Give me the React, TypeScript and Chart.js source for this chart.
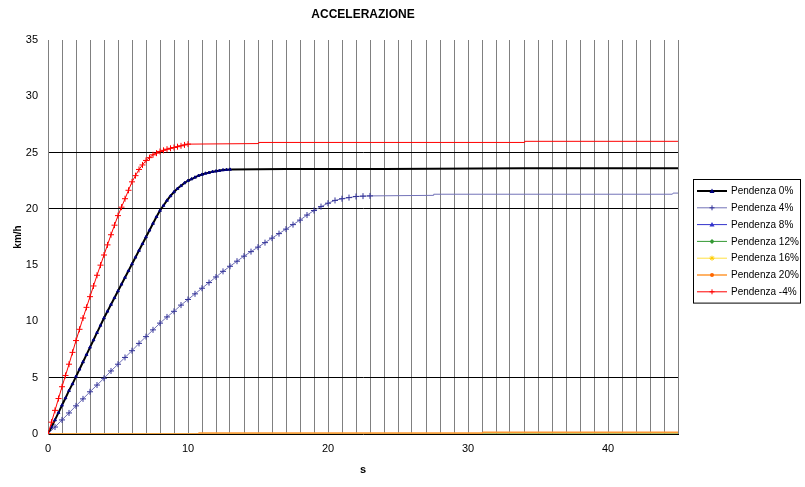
import React, { useEffect, useRef } from "react";
import { Chart, registerables } from "chart.js";
Chart.register(...registerables);

const chartTitle = "ACCELERAZIONE";
const xTitle = "s";
const yTitle = "km/h";
const seriesLabels = ["Pendenza 0%", "Pendenza 4%", "Pendenza 8%", "Pendenza 12%", "Pendenza 16%", "Pendenza 20%", "Pendenza -4%"];
const yTicks = [0, 5, 10, 15, 20, 25, 30, 35];
const xLabelTicks = [0, 10, 20, 30, 40];
const yGridValues = [5, 20, 25];

// Pendenza 0%
const t0 = [0, 0.25, 0.5, 0.75, 1, 1.25, 1.5, 1.75, 2, 2.25, 2.5, 2.75, 3, 3.25, 3.5, 3.75, 4, 4.25, 4.5, 4.75, 5, 5.25, 5.5, 5.75, 6, 6.25, 6.5, 6.75, 7, 7.25, 7.5, 7.75, 8, 8.25, 8.5, 8.75, 9, 9.25, 9.5, 9.75, 10, 10.25, 10.5, 10.75, 11, 11.25, 11.5, 11.75, 12, 12.25, 12.5, 12.75, 13];
const v0 = [0, 0.6, 1.25, 1.9, 2.55, 3.2, 3.85, 4.45, 5.1, 5.75, 6.4, 7.05, 7.7, 8.35, 9.0, 9.65, 10.3, 10.9, 11.5, 12.1, 12.7, 13.3, 13.9, 14.5, 15.1, 15.7, 16.3, 16.9, 17.5, 18.1, 18.7, 19.3, 19.85, 20.3, 20.75, 21.15, 21.5, 21.8, 22.05, 22.3, 22.5, 22.65, 22.8, 22.95, 23.05, 23.15, 23.22, 23.3, 23.35, 23.4, 23.45, 23.48, 23.5];
const t0Tail = [17, 24, 34, 45];
const v0Tail = [23.55, 23.55, 23.6, 23.6];

// Pendenza 4%
const t4 = [0, 0.5, 1, 1.5, 2, 2.5, 3, 3.5, 4, 4.5, 5, 5.5, 6, 6.5, 7, 7.5, 8, 8.5, 9, 9.5, 10, 10.5, 11, 11.5, 12, 12.5, 13, 13.5, 14, 14.5, 15, 15.5, 16, 16.5, 17, 17.5, 18, 18.5, 19, 19.5, 20, 20.5, 21, 21.5, 22, 22.5, 23];
const v4 = [0, 0.62, 1.25, 1.87, 2.5, 3.12, 3.75, 4.35, 4.95, 5.6, 6.2, 6.8, 7.4, 8.05, 8.65, 9.25, 9.85, 10.4, 10.9, 11.45, 11.95, 12.45, 12.95, 13.45, 13.95, 14.45, 14.9, 15.35, 15.8, 16.2, 16.6, 17.0, 17.4, 17.8, 18.2, 18.6, 19.0, 19.45, 19.85, 20.2, 20.5, 20.75, 20.9, 21.0, 21.1, 21.13, 21.15];
const t4Tail = [27.5, 27.55, 44.6, 44.65, 45];
const v4Tail = [21.2, 21.3, 21.3, 21.4, 21.4];

// Pendenza 8%, 12%, 16%
const t8 = [0, 10.7, 45];
const v8 = [0, 0, 0];
const t12 = [0, 10.7, 45];
const v12 = [0, 0, 0];
const t16 = [0, 10.7, 45];
const v16 = [0, 0, 0];

// Pendenza 20%
const t20 = [0, 10.7, 10.8, 31, 31.1, 45];
const v20 = [0, 0, 0.08, 0.08, 0.15, 0.15];

// Pendenza -4%
const tm4 = [0, 0.25, 0.5, 0.75, 1, 1.25, 1.5, 1.75, 2, 2.25, 2.5, 2.75, 3, 3.25, 3.5, 3.75, 4, 4.25, 4.5, 4.75, 5, 5.25, 5.5, 5.75, 6, 6.25, 6.5, 6.75, 7, 7.25, 7.5, 7.75, 8, 8.25, 8.5, 8.75, 9, 9.25, 9.5, 9.75, 10];
const vm4 = [0, 1.05, 2.1, 3.15, 4.2, 5.2, 6.2, 7.25, 8.3, 9.3, 10.3, 11.25, 12.2, 13.15, 14.1, 15.0, 15.9, 16.8, 17.7, 18.55, 19.4, 20.15, 20.9, 21.65, 22.4, 22.95, 23.5, 23.9, 24.3, 24.55, 24.8, 24.95, 25.1, 25.2, 25.3, 25.38, 25.45, 25.52, 25.6, 25.68, 25.75];
const tm4Tail = [15, 15.05, 34, 34.05, 45];
const vm4Tail = [25.8, 25.9, 25.9, 26.0, 26.0];

const FONT = "'Liberation Sans', Arial, sans-serif";

type S = { t: number[]; v: number[]; tt: number[]; vt: number[]; line: string; mark: string; style: string; r: number; w: number };
const series: S[] = [
  { t: t0, v: v0, tt: t0Tail, vt: v0Tail, line: "#000000", mark: "#000080", style: "triangle", r: 1.6, w: 2 },
  { t: t4, v: v4, tt: t4Tail, vt: v4Tail, line: "#7272B8", mark: "#333399", style: "cross", r: 3, w: 1 },
  { t: t8, v: v8, tt: [], vt: [], line: "#3333CC", mark: "#3333CC", style: "triangle", r: 0, w: 1 },
  { t: t12, v: v12, tt: [], vt: [], line: "#339933", mark: "#339933", style: "rectRot", r: 0, w: 1 },
  { t: t16, v: v16, tt: [], vt: [], line: "#FFE040", mark: "#FFCC00", style: "star", r: 0, w: 1 },
  { t: t20, v: v20, tt: [], vt: [], line: "#FF9933", mark: "#FF6600", style: "circle", r: 0, w: 1.5 },
  { t: tm4, v: vm4, tt: tm4Tail, vt: vm4Tail, line: "#FF0000", mark: "#FF0000", style: "cross", r: 3, w: 1 },
];

function drawMarker(ctx: CanvasRenderingContext2D, style: string, x: number, y: number, r: number, color: string) {
  ctx.save();
  ctx.strokeStyle = color;
  ctx.fillStyle = color;
  ctx.lineWidth = 1;
  ctx.beginPath();
  if (style === "cross") {
    ctx.moveTo(x - r, y); ctx.lineTo(x + r, y);
    ctx.moveTo(x, y - r); ctx.lineTo(x, y + r);
    ctx.stroke();
  } else if (style === "star") {
    ctx.moveTo(x - r, y); ctx.lineTo(x + r, y);
    ctx.moveTo(x, y - r); ctx.lineTo(x, y + r);
    ctx.moveTo(x - r * 0.7, y - r * 0.7); ctx.lineTo(x + r * 0.7, y + r * 0.7);
    ctx.moveTo(x - r * 0.7, y + r * 0.7); ctx.lineTo(x + r * 0.7, y - r * 0.7);
    ctx.stroke();
  } else if (style === "triangle") {
    ctx.moveTo(x, y - r); ctx.lineTo(x + r, y + r * 0.8); ctx.lineTo(x - r, y + r * 0.8); ctx.closePath();
    ctx.fill();
  } else if (style === "rectRot") {
    ctx.moveTo(x, y - r); ctx.lineTo(x + r, y); ctx.lineTo(x, y + r); ctx.lineTo(x - r, y); ctx.closePath();
    ctx.fill();
  } else {
    ctx.arc(x, y, r * 0.8, 0, Math.PI * 2);
    ctx.fill();
  }
  ctx.restore();
}

const decorPlugin = {
  id: "decor",
  afterDraw(chart: any) {
    const ctx: CanvasRenderingContext2D = chart.ctx;
    const area = chart.chartArea;
    ctx.save();
    // title
    ctx.fillStyle = "#000";
    ctx.font = `bold 12px ${FONT}`;
    ctx.textAlign = "center";
    ctx.textBaseline = "middle";
    ctx.fillText(chartTitle, (area.left + area.right) / 2, 15);
    // legend
    const ds = chart.data.datasets;
    const bx = 693, by = 179, bw = 107, rowH = 16.8;
    const bh = ds.length * rowH + 6;
    ctx.fillStyle = "#fff";
    ctx.fillRect(bx, by, bw, bh);
    ctx.strokeStyle = "#000";
    ctx.lineWidth = 1;
    ctx.strokeRect(bx + 0.5, by + 0.5, bw, bh);
    ds.forEach((d: any, i: number) => {
      const s = series[i];
      const y = by + 12 + i * rowH;
      ctx.strokeStyle = s.line;
      ctx.lineWidth = s.w;
      ctx.beginPath();
      ctx.moveTo(bx + 4, y);
      ctx.lineTo(bx + 34, y);
      ctx.stroke();
      drawMarker(ctx, s.style, bx + 19, y, 2.5, s.mark);
      ctx.fillStyle = "#000";
      ctx.font = `10px ${FONT}`;
      ctx.textAlign = "left";
      ctx.textBaseline = "middle";
      ctx.fillText(d.label, bx + 38, y + 0.5);
    });
    ctx.restore();
  },
};

export default function App() {
  const ref = useRef<HTMLCanvasElement | null>(null);
  useEffect(() => {
    document.body.style.margin = "0";
    if (!ref.current) return;
    Chart.defaults.font.family = FONT;
    const datasets = series.map((s, i) => {
      const nMarked = s.t.length;
      const pts = s.t.map((x, j) => ({ x, y: s.v[j] })).concat(s.tt.map((x, j) => ({ x, y: s.vt[j] })));
      return {
        label: seriesLabels[i],
        data: pts,
        borderColor: s.line,
        backgroundColor: s.mark,
        borderWidth: s.w,
        pointStyle: s.style,
        pointBorderColor: s.mark,
        pointBackgroundColor: s.mark,
        pointBorderWidth: 1,
        pointRadius: (c: any) => (c.dataIndex < nMarked ? s.r : 0),
        pointHoverRadius: 0,
        showLine: true,
        tension: 0,
        order: series.length - i,
      };
    });
    const chart = new Chart(ref.current, {
      type: "scatter",
      data: { datasets },
      plugins: [decorPlugin],
      options: {
        animation: false,
        responsive: false,
        devicePixelRatio: 1,
        layout: { padding: { left: 0, right: 127, top: 40, bottom: 0 } },
        plugins: { legend: { display: false }, title: { display: false }, tooltip: { enabled: false } },
        scales: {
          x: {
            type: "linear",
            min: 0,
            max: 45,
            afterFit: (sc: any) => { sc.height = 53; },
            ticks: {
              stepSize: 1,
              autoSkip: false,
              maxRotation: 0,
              padding: 8,
              color: "#000",
              font: { size: 11 },
              callback: (v: any) => (xLabelTicks.includes(Number(v)) ? String(v) : ""),
            },
            grid: { color: "#808080", lineWidth: 1, drawTicks: false },
            border: { display: true, color: "#000000" },
            title: { display: true, text: xTitle, color: "#000", font: { size: 11, weight: "bold" }, padding: { top: 0, bottom: 10 } },
          },
          y: {
            type: "linear",
            min: 0,
            max: 35,
            afterFit: (sc: any) => { sc.width = 48; },
            afterBuildTicks: (sc: any) => { sc.ticks = yTicks.map((value) => ({ value })); },
            ticks: { padding: 10, color: "#000", font: { size: 11 } },
            grid: {
              drawTicks: false,
              lineWidth: 1,
              color: (c: any) => (c.tick && yGridValues.includes(c.tick.value) ? "#000000" : "rgba(0,0,0,0)"),
            },
            border: { display: true, color: "#808080" },
            title: { display: true, text: yTitle, color: "#000", font: { size: 10, weight: "bold" }, padding: { top: 12, bottom: 0 } },
          },
        },
      } as any,
    });
    return () => chart.destroy();
  }, []);
  return <canvas ref={ref} width={805} height={487} style={{ display: "block", width: 805, height: 487 }} />;
}
